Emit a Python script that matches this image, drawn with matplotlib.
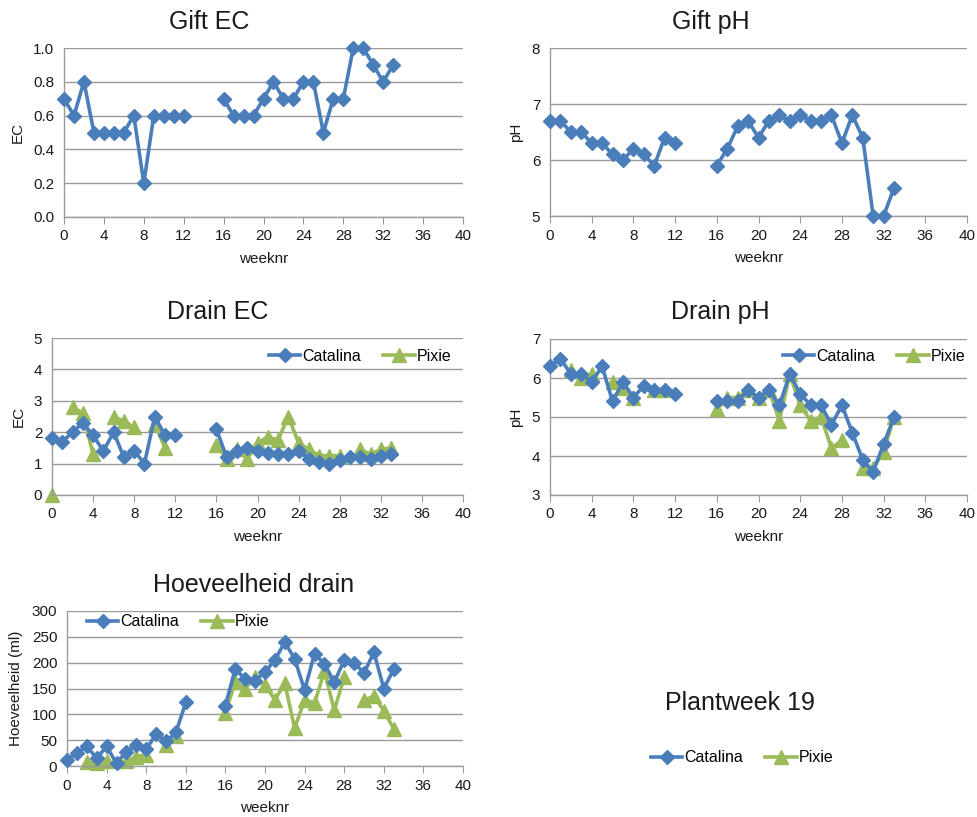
import numpy as np
import matplotlib
matplotlib.use("Agg")
import matplotlib.pyplot as plt

plt.rcParams['font.family'] = ['Liberation Sans', 'DejaVu Sans']

nan = np.nan
weeks = np.arange(0, 34)

# Gift (feed) EC and pH, weeks 0-33 (13-15 not measured)
gift_ec = [0.7, 0.6, 0.8, 0.5, 0.5, 0.5, 0.5, 0.6, 0.2, 0.6, 0.6, 0.6, 0.6,
           nan, nan, nan,
           0.7, 0.6, 0.6, 0.6, 0.7, 0.8, 0.7, 0.7, 0.8, 0.8, 0.5, 0.7, 0.7,
           1.0, 1.0, 0.9, 0.8, 0.9]
gift_ph = [6.7, 6.7, 6.5, 6.5, 6.3, 6.3, 6.1, 6.0, 6.2, 6.1, 5.9, 6.4, 6.3,
           nan, nan, nan,
           5.9, 6.2, 6.6, 6.7, 6.4, 6.7, 6.8, 6.7, 6.8, 6.7, 6.7, 6.8, 6.3,
           6.8, 6.4, 5.0, 5.0, 5.5]

# Drain EC
drain_ec_catalina = [1.8, 1.7, 2.0, 2.3, 1.9, 1.4, 2.0, 1.2, 1.4, 1.0, 2.5, 1.9, 1.9,
                     nan, nan, nan,
                     2.1, 1.2, 1.4, 1.5, 1.4, 1.35, 1.3, 1.3, 1.4, 1.15, 1.05, 1.0, 1.1,
                     1.2, 1.2, 1.15, 1.25, 1.3]
drain_ec_pixie = [0.0, nan, 2.8, 2.6, 1.3, nan, 2.5, 2.35, 2.15, nan, 2.25, 1.5, nan,
                  nan, nan, nan,
                  1.6, 1.15, 1.45, 1.15, 1.65, 1.85, 1.75, 2.5, 1.65, 1.45, 1.25, 1.25, 1.25,
                  nan, 1.45, 1.3, 1.45, 1.5]

# Drain pH
drain_ph_catalina = [6.3, 6.5, 6.1, 6.1, 5.9, 6.3, 5.4, 5.9, 5.5, 5.8, 5.7, 5.7, 5.6,
                     nan, nan, nan,
                     5.4, 5.4, 5.4, 5.7, 5.5, 5.7, 5.3, 6.1, 5.6, 5.3, 5.3, 4.8, 5.3,
                     4.6, 3.9, 3.6, 4.3, 5.0]
drain_ph_pixie = [nan, nan, 6.2, 6.0, 6.1, nan, 5.9, 5.75, 5.5, nan, 5.7, 5.7, nan,
                  nan, nan, nan,
                  5.2, 5.5, 5.5, 5.7, 5.5, 5.7, 4.9, 6.1, 5.3, 4.9, 5.0, 4.2, 4.4,
                  nan, 3.7, 3.7, 4.1, 5.0]

# Drain volume (ml)
drain_ml_catalina = [12, 25, 38, 15, 38, 5, 28, 40, 32, 62, 48, 65, 123,
                     nan, nan, nan,
                     117, 188, 168, 165, 182, 205, 240, 207, 147, 217, 198, 162, 205,
                     200, 180, 220, 150, 187]
drain_ml_pixie = [nan, nan, 8, 5, 10, nan, 10, 18, 22, nan, 40, 58, nan,
                  nan, nan, nan,
                  103, 163, 150, 172, 157, 128, 160, 73, 128, 122, 183, 108, 172,
                  nan, 127, 135, 107, 72]

BLUE = '#4a7ebb'
GREEN = '#9bbb59'
GRID = '#9a9a9a'
TXT = '#1a1a1a'

W, H = 977, 817
fig = plt.figure(figsize=(W / 100, H / 100), dpi=100)


def px_axes(x0, x1, ytop, ybot):
    return fig.add_axes([x0 / W, 1 - ybot / H, (x1 - x0) / W, (ybot - ytop) / H])


def style(ax, ylim, ystep, ylabel, fmt=None):
    ax.set_xlim(0, 40)
    ax.set_ylim(*ylim)
    ax.set_xticks(np.arange(0, 41, 4))
    ax.set_yticks(np.arange(ylim[0], ylim[1] + ystep / 2, ystep))
    if fmt:
        ax.yaxis.set_major_formatter(matplotlib.ticker.FormatStrFormatter(fmt))
    ax.grid(axis='y', color=GRID, lw=1.0)
    ax.set_axisbelow(True)
    for s in ('top', 'right'):
        ax.spines[s].set_visible(False)
    for s in ('left', 'bottom'):
        ax.spines[s].set_color(GRID)
        ax.spines[s].set_linewidth(1.0)
    ax.tick_params(axis='x', direction='out', length=5, color=GRID, labelsize=11,
                   labelcolor=TXT, pad=4)
    ax.tick_params(axis='y', length=0, labelsize=11, labelcolor=TXT, pad=7)
    ax.set_xlabel('weeknr', fontsize=11, color=TXT, labelpad=6)
    ax.set_ylabel(ylabel, fontsize=11, color=TXT, labelpad=6)


def plot_cat(ax, y):
    return ax.plot(weeks, y, color=BLUE, lw=2.6, marker='D', ms=7.5,
                   label='Catalina', zorder=3, clip_on=False)[0]


def plot_pix(ax, y):
    return ax.plot(weeks, y, color=GREEN, lw=2.6, marker='^', ms=9.5,
                   label='Pixie', zorder=2, clip_on=False)[0]


leg_kw = dict(ncol=2, frameon=False, fontsize=11.5, handlelength=2.0,
              handletextpad=0.1, columnspacing=1.4, numpoints=1)

# Gift EC
ax1 = px_axes(64, 463, 48, 217)
plot_cat(ax1, gift_ec)
style(ax1, (0.0, 1.0), 0.2, 'EC', '%.1f')
fig.text(209 / W, 1 - 22 / H, 'Gift EC', fontsize=18, ha='center', va='center', color=TXT)

# Gift pH
ax2 = px_axes(550, 967, 48, 216)
plot_cat(ax2, gift_ph)
style(ax2, (5, 8), 1, 'pH')
fig.text(711 / W, 1 - 22 / H, 'Gift pH', fontsize=18, ha='center', va='center', color=TXT)

# Drain EC
ax3 = px_axes(52, 463, 338, 495)
c = plot_cat(ax3, drain_ec_catalina)
p = plot_pix(ax3, drain_ec_pixie)
style(ax3, (0, 5), 1, 'EC')
ax3.legend(handles=[c, p], loc='center', bbox_to_anchor=(360 / W, 1 - 356 / H),
           bbox_transform=fig.transFigure, **leg_kw)
fig.text(218 / W, 1 - 312 / H, 'Drain EC', fontsize=18, ha='center', va='center', color=TXT)

# Drain pH
ax4 = px_axes(550, 967, 339, 495)
c = plot_cat(ax4, drain_ph_catalina)
p = plot_pix(ax4, drain_ph_pixie)
style(ax4, (3, 7), 1, 'pH')
ax4.legend(handles=[c, p], loc='center', bbox_to_anchor=(874 / W, 1 - 356 / H),
           bbox_transform=fig.transFigure, **leg_kw)
fig.text(720 / W, 1 - 312 / H, 'Drain pH', fontsize=18, ha='center', va='center', color=TXT)

# Hoeveelheid drain
ax5 = px_axes(67, 463, 611, 766)
c = plot_cat(ax5, drain_ml_catalina)
p = plot_pix(ax5, drain_ml_pixie)
style(ax5, (0, 300), 50, 'Hoeveelheid (ml)')
ax5.legend(handles=[c, p], loc='center', bbox_to_anchor=(178 / W, 1 - 622 / H),
           bbox_transform=fig.transFigure, **leg_kw)
fig.text(254 / W, 1 - 585 / H, 'Hoeveelheid drain', fontsize=18, ha='center', va='center', color=TXT)

# Label area in the empty bottom-right slot
fig.text(740 / W, 1 - 703 / H, 'Plantweek 19', fontsize=18, ha='center', va='center', color=TXT)
fig.legend(handles=[c, p], loc='center', bbox_to_anchor=(742 / W, 1 - 758 / H),
           bbox_transform=fig.transFigure, **leg_kw)

fig.savefig('out.png', dpi=100)
